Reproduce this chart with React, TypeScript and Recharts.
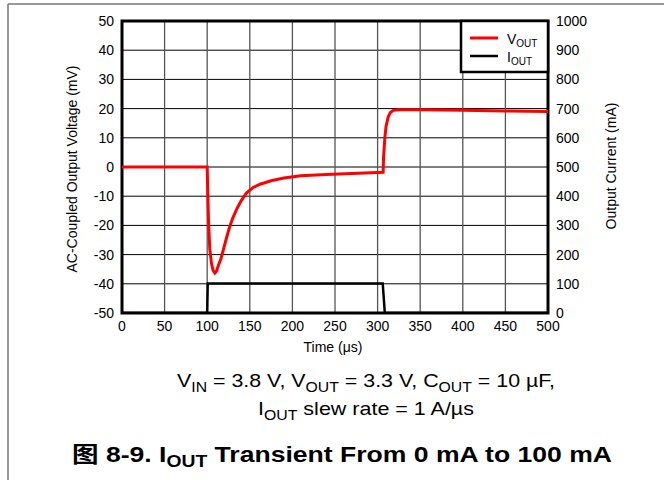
import {
  LineChart,
  Line,
  XAxis,
  YAxis,
  CartesianGrid,
  ReferenceArea,
} from "recharts";

// V_OUT trace (AC-coupled, mV)
const voutTime = [
  0, 50, 100, 100.6, 101.5, 103, 105, 107, 109, 111, 113, 116, 119, 122, 126,
  130, 135, 140, 146, 154, 162, 175, 190, 210, 240, 270, 306.5, 307, 308.6, 310,
  312.5, 315, 318.5, 325, 350, 400, 450, 500,
];
const voutMv = [
  0, 0, 0, -8, -18, -28, -33, -35.5, -36.3, -35.6, -33.8, -31.5, -28.3, -25,
  -20.8, -17.5, -14.2, -11.5, -8.9, -7, -5.9, -4.7, -3.8, -3.0, -2.6, -2.2, -1.8,
  3.5, 10.3, 14, 17.2, 18.7, 19.4, 19.6, 19.6, 19.4, 19.2, 19.0,
];

// I_OUT trace (mA)
const ioutTime = [0, 100, 100.6, 200, 306, 308.5, 400, 500];
const ioutMa = [0, 0, 101, 101, 101, 0, 0, 0];

const timeTicks = [0, 50, 100, 150, 200, 250, 300, 350, 400, 450, 500];
const voltTicks = [-50, -40, -30, -20, -10, 0, 10, 20, 30, 40, 50];
const currentTicks = [0, 100, 200, 300, 400, 500, 600, 700, 800, 900, 1000];

const voutData = voutTime.map((t, i) => ({ t, v: voutMv[i] }));
const ioutData = ioutTime.map((t, i) => ({ t, i: ioutMa[i] }));

const FONT = "'Liberation Sans', Arial, 'Noto Sans CJK SC', sans-serif";
const tickStyle = { fontSize: 14, fill: "#000", fontFamily: FONT };

export default function App() {
  return (
    <div
      style={{
        position: "absolute",
        left: 0,
        top: 0,
        width: 664,
        height: 480,
        background: "#fff",
        fontFamily: FONT,
      }}
    >
      <LineChart
        width={664}
        height={480}
        margin={{ top: 21, right: 56, bottom: 137, left: 62 }}
      >
        <CartesianGrid
          yAxisId="left"
          vertical={false}
          stroke="#000"
          strokeWidth={1}
        />
        <CartesianGrid
          yAxisId="left"
          horizontal={false}
          stroke="#555"
          strokeWidth={1.3}
        />
        <XAxis
          dataKey="t"
          type="number"
          domain={[0, 500]}
          ticks={timeTicks}
          allowDataOverflow
          axisLine={false}
          tickLine={false}
          tick={tickStyle}
          height={30}
        />
        <YAxis
          yAxisId="left"
          type="number"
          domain={[-50, 50]}
          ticks={voltTicks}
          allowDataOverflow
          axisLine={false}
          tickLine={false}
          tick={tickStyle}
          width={60}
        />
        <YAxis
          yAxisId="right"
          orientation="right"
          type="number"
          domain={[0, 1000]}
          ticks={currentTicks}
          allowDataOverflow
          axisLine={false}
          tickLine={false}
          tick={tickStyle}
          width={60}
        />
        <Line
          yAxisId="left"
          data={voutData}
          dataKey="v"
          type="linear"
          stroke="#ff0000"
          strokeWidth={3}
          dot={false}
          isAnimationActive={false}
        />
        <Line
          yAxisId="right"
          data={ioutData}
          dataKey="i"
          type="linear"
          stroke="#000"
          strokeWidth={2.5}
          dot={false}
          isAnimationActive={false}
        />
        <ReferenceArea
          yAxisId="left"
          x1={0}
          x2={500}
          y1={-50}
          y2={50}
          fill="none"
          stroke="#000"
          strokeWidth={3}
          ifOverflow="visible"
        />
      </LineChart>

      {/* labels, legend box and caption on top */}
      <svg
        width={664}
        height={480}
        style={{ position: "absolute", left: 0, top: 0, pointerEvents: "none" }}
        fontFamily={FONT}
      >
        {/* page frame */}
        <line x1={8} y1={4} x2={664} y2={4} stroke="#777" strokeWidth={1.5} />
        <line x1={8} y1={4} x2={8} y2={480} stroke="#777" strokeWidth={1.5} />

        {/* legend */}
        <rect x={461} y={21} width={87} height={51} fill="#fff" stroke="#000" strokeWidth={2.5} />
        <line x1={470} y1={38} x2={498} y2={38} stroke="#ff0000" strokeWidth={3} />
        <line x1={470} y1={56} x2={498} y2={56} stroke="#000" strokeWidth={2.5} />
        <text x={507} y={44} fontSize={14}>
          V<tspan fontSize={10} dy={3}>OUT</tspan>
        </text>
        <text x={507} y={62} fontSize={14}>
          I<tspan fontSize={10} dy={3}>OUT</tspan>
        </text>

        {/* axis titles */}
        <text x={333} y={352} fontSize={14} textAnchor="middle">
          Time (μs)
        </text>
        <text
          x={77}
          y={169}
          fontSize={14}
          textAnchor="middle"
          transform="rotate(-90 77 169)"
        >
          AC-Coupled Output Voltage (mV)
        </text>
        <text
          x={616}
          y={166}
          fontSize={14}
          textAnchor="middle"
          transform="rotate(-90 616 166)"
        >
          Output Current (mA)
        </text>

        {/* caption */}
        <text x={177} y={387} fontSize={19} textLength={378} lengthAdjust="spacingAndGlyphs">
          V<tspan fontSize={14} dy={5}>IN</tspan>
          <tspan dy={-5}>{" = 3.8 V, V"}</tspan>
          <tspan fontSize={14} dy={5}>OUT</tspan>
          <tspan dy={-5}>{" = 3.3 V, C"}</tspan>
          <tspan fontSize={14} dy={5}>OUT</tspan>
          <tspan dy={-5}>{" = 10 µF,"}</tspan>
        </text>
        <text x={258} y={415} fontSize={19} textLength={216} lengthAdjust="spacingAndGlyphs">
          I<tspan fontSize={14} dy={5}>OUT</tspan>
          <tspan dy={-5}>{" slew rate = 1 A/µs"}</tspan>
        </text>
        <text
          x={72}
          y={462}
          fontSize={22}
          fontWeight="bold"
          textLength={540}
          lengthAdjust="spacingAndGlyphs"
        >
          {"图 8-9. I"}
          <tspan fontSize={16} dy={5}>OUT</tspan>
          <tspan dy={-5}>{" Transient From 0 mA to 100 mA"}</tspan>
        </text>
      </svg>
    </div>
  );
}
